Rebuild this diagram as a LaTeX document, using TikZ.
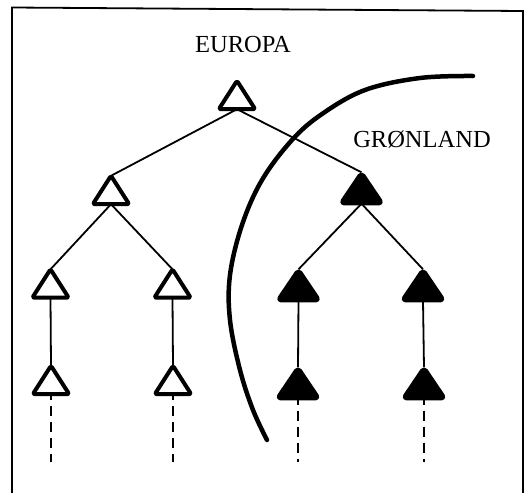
\documentclass[tikz,border=0pt]{standalone}
\usepackage{fontspec}
\setmainfont{Liberation Serif}
\begin{document}
\begin{tikzpicture}[x=1pt,y=-1pt,
  openbox/.style={minimum width=36pt,minimum height=28pt,inner sep=0pt},
  fullbox/.style={minimum width=42pt,minimum height=31pt,inner sep=0pt},
  opentri/.style={draw,line width=4pt,line join=round,rounded corners=2pt,fill=white},
  fulltri/.style={draw,fill=black,line width=3.5pt,line join=round,rounded corners=4pt},
  edge/.style={line width=1.8pt},
  tail/.style={line width=1.9pt,dash pattern=on 10pt off 6pt},
  frame/.style={line width=1.8pt},
  label/.style={font=\fontsize{24.5}{28}\selectfont,inner sep=0pt}]
\useasboundingbox (0,0) rectangle (528,493);
% frame
\draw[frame] (12,493) -- (12,7.5) -- (523,11) -- (523,493);
% labels
\node[label] (eu) at (243,45) {EUROPA};
\node[label] (gr) at (422,140) {GRØNLAND};
% node places
\node[openbox] (r) at (237,95) {};
\node[openbox] (a) at (111,190) {};
\node[fullbox] (b) at (361.5,188) {};
\node[openbox] (a1) at (50.5,283.5) {};
\node[openbox] (a2) at (172.5,283.5) {};
\node[fullbox] (b1) at (298.5,285) {};
\node[fullbox] (b2) at (423,285) {};
\node[openbox] (a3) at (51,380) {};
\node[openbox] (a4) at (173,380) {};
\node[fullbox] (b3) at (298,383) {};
\node[fullbox] (b4) at (424,383) {};
\coordinate (ta3) at (51,462);
\coordinate (ta4) at (173,462);
\coordinate (tb3) at (298,462);
\coordinate (tb4) at (424,462);
% connectors
\draw[edge] (r.south) -- (a.north);
\draw[edge] (r.south) -- (b.north);
\draw[edge] (a.south) -- (a1.north);
\draw[edge] (a.south) -- (a2.north);
\draw[edge] (b.south) -- (b1.north);
\draw[edge] (b.south) -- (b2.north);
\draw[edge] (a1.south) -- (a3.north);
\draw[edge] (a2.south) -- (a4.north);
\draw[edge] (b1.south) -- (b3.north);
\draw[edge] (b2.south) -- (b4.north);
\draw[tail] ([yshift=4pt]a3.south) -- (ta3);
\draw[tail] ([yshift=4pt]a4.south) -- (ta4);
\draw[tail] ([yshift=4pt]b3.south) -- (tb3);
\draw[tail] ([yshift=4pt]b4.south) -- (tb4);
% triangles
\foreach \n in {r,a,a1,a2,a3,a4}
  \draw[opentri] (\n.north) -- (\n.south east) -- (\n.south west) -- cycle;
\foreach \n in {b,b1,b2,b3,b4}
  \draw[fulltri] (\n.north) -- (\n.south east) -- (\n.south west) -- cycle;
% boundary curve
\draw[line width=4.5pt,line cap=round] plot[smooth,tension=0.6] coordinates
  {(473,76) (420,78) (365,90) (322,114) (292,140) (262,180) (242,225) (230,275) (230,320) (240,370) (253,410) (267,440)};
\end{tikzpicture}
\end{document}
